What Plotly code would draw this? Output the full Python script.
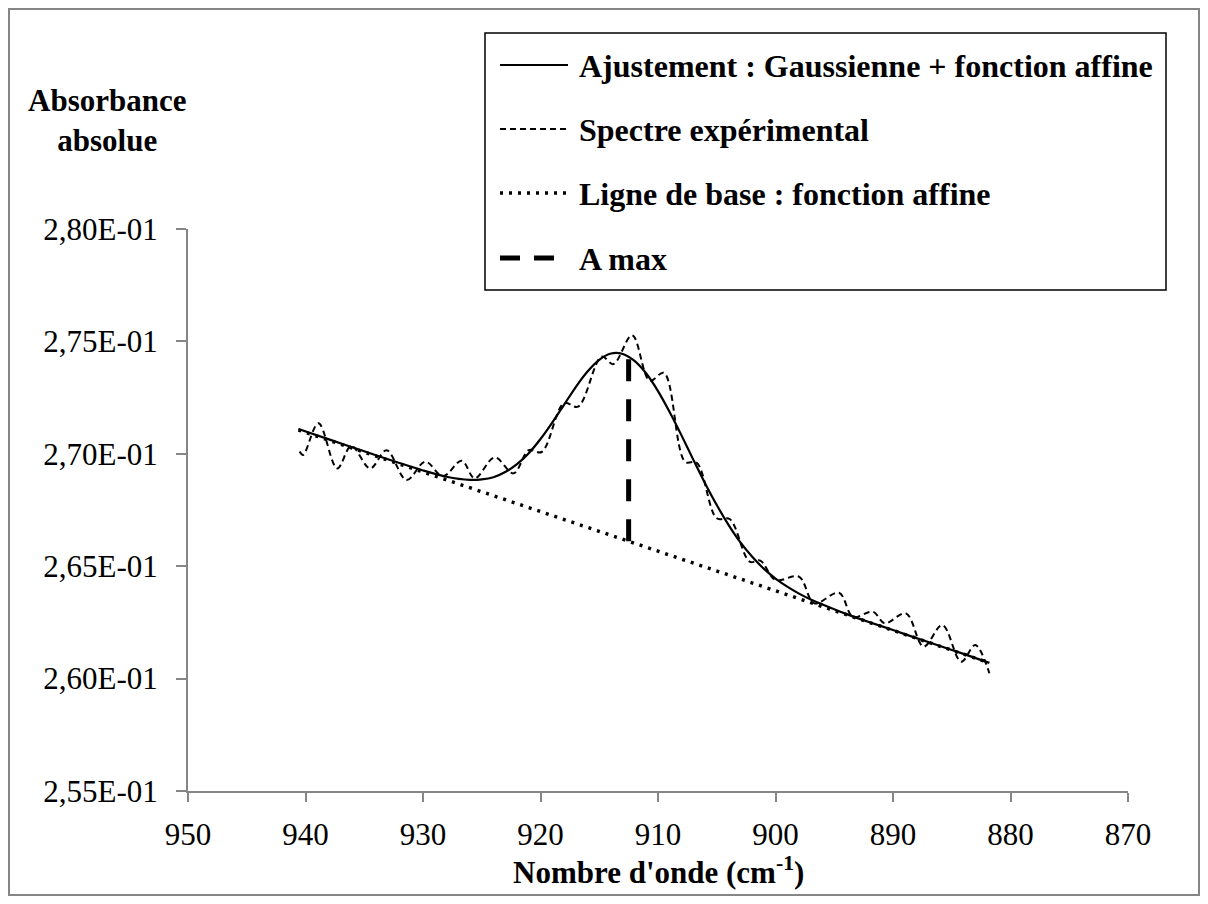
import plotly.graph_objects as go

# wavenumber (cm-1) and absorbance values
fit_x = [940.6, 938, 935, 932, 930, 928, 926, 925, 924, 923, 922, 921, 920, 919, 918,
         917, 916, 915, 914, 913, 912, 911, 910, 909, 908, 907, 906, 905, 904, 903,
         902, 901, 900, 899, 898, 897, 896, 894, 892, 890, 888, 886, 884, 881.8]
fit_y = [0.27110, 0.27064, 0.27011, 0.26959, 0.26926, 0.26898, 0.26884, 0.26886, 0.26896,
         0.26919, 0.26954, 0.27003, 0.27066, 0.27139, 0.27218, 0.27297, 0.27366, 0.27418,
         0.27446, 0.27444, 0.27413, 0.27357, 0.27279, 0.27185, 0.27082, 0.26974, 0.26869,
         0.26772, 0.26684, 0.26607, 0.26543, 0.26489, 0.26445, 0.26409, 0.26378, 0.26352,
         0.26330, 0.26288, 0.26251, 0.26216, 0.26180, 0.26145, 0.26110, 0.26070]

exp_x = [940.5, 940.2, 938.9, 937.3, 936.1, 934.5, 933.1, 931.4, 929.8, 928.3, 926.7,
         925.6, 923.9, 922.3, 921.0, 919.9, 918.0, 916.8, 914.8, 913.8, 912.2, 910.7,
         909.5, 907.7, 906.7, 905.0, 903.9, 902.2, 901.3, 900.0, 898.0, 896.7, 894.6,
         893.4, 891.7, 890.7, 888.9, 887.4, 885.8, 884.2, 883.0, 881.8]
exp_y = [0.27010, 0.26995, 0.27136, 0.26935, 0.27035, 0.26935, 0.27016, 0.26883, 0.26965,
         0.26900, 0.26969, 0.26891, 0.26984, 0.26913, 0.27016, 0.27008, 0.27225, 0.27210,
         0.27432, 0.27399, 0.27527, 0.27325, 0.27360, 0.26965, 0.26960, 0.26713, 0.26710,
         0.26520, 0.26525, 0.26439, 0.26453, 0.26335, 0.26382, 0.26275, 0.26297, 0.26246,
         0.26290, 0.26142, 0.26238, 0.26075, 0.26149, 0.26024]

base_x = [940.6, 881.8]
base_y = [0.27106, 0.26070]

amax_x = [912.5, 912.5]
amax_y = [0.26611, 0.27426]

x_ticks = [950, 940, 930, 920, 910, 900, 890, 880, 870]
y_ticks = [0.255, 0.260, 0.265, 0.270, 0.275, 0.280]
y_tick_text = ["2,55E-01", "2,60E-01", "2,65E-01", "2,70E-01", "2,75E-01", "2,80E-01"]

legend_names = ["Ajustement : Gaussienne + fonction affine", "Spectre expérimental",
                "Ligne de base : fonction affine", "A max"]

FONT = '"Liberation Serif", "Times New Roman", Times, serif'
GREY = "#868686"

# the page puts the figure 8px in from the top left corner
OFF = 8
W, H = 1200, 896
# plot area in page pixels
L, R, T, B = 188, 1128, 229, 791


def px(x):
    return (x - L) / (R - L)


def py(y):
    return (B - y) / (B - T)


fig = go.Figure()
fig.add_trace(go.Scatter(x=base_x, y=base_y, mode="lines",
                         line=dict(color="black", width=3.5, dash="3px,6px")))
fig.add_trace(go.Scatter(x=exp_x, y=exp_y, mode="lines",
                         line=dict(color="black", width=2, dash="6px,4px", shape="spline", smoothing=1)))
fig.add_trace(go.Scatter(x=fit_x, y=fit_y, mode="lines",
                         line=dict(color="black", width=2.2, shape="spline", smoothing=0.8)))
fig.add_trace(go.Scatter(x=amax_x, y=amax_y, mode="lines",
                         line=dict(color="black", width=5, dash="22px,18px")))

# legend box drawn by hand so the samples are as long as in the original
shapes = [
    dict(type="rect", xref="paper", yref="paper", x0=px(9), x1=px(1199), y0=py(895), y1=py(9),
         line=dict(color=GREY, width=2), layer="below"),
    dict(type="rect", xref="paper", yref="paper", x0=px(485), x1=px(1166), y0=py(290), y1=py(33),
         line=dict(color="black", width=1.5), fillcolor="white", layer="above"),
]
styles = [("solid", 2.2), ("6px,4px", 2), ("3px,6px", 3.5), ("20px,14px", 5)]
rows = [65, 129, 193, 258]
annotations = []
for name, (dash, w), yr in zip(legend_names, styles, rows):
    shapes.append(dict(type="line", xref="paper", yref="paper", x0=px(500), x1=px(568),
                       y0=py(yr), y1=py(yr), line=dict(color="black", width=w, dash=dash), layer="above"))
    annotations.append(dict(xref="paper", yref="paper", x=px(577), y=py(yr + 1), text="<b>" + name + "</b>",
                            showarrow=False, xanchor="left", yanchor="middle",
                            font=dict(family=FONT, size=32, color="black")))

annotations.append(dict(xref="paper", yref="paper", x=px(107), y=py(121), text="<b>Absorbance<br>absolue</b>",
                        showarrow=False, xanchor="center", yanchor="middle", align="center",
                        font=dict(family=FONT, size=31, color="black")))
annotations.append(dict(xref="paper", yref="paper", x=px(658), y=py(870), text="<b>Nombre d'onde (cm<sup>-1</sup>)</b>",
                        showarrow=False, xanchor="center", yanchor="middle",
                        font=dict(family=FONT, size=31, color="black")))

fig.update_layout(
    width=W, height=H,
    margin=dict(l=L - OFF, r=W - (R - OFF), t=T - OFF, b=H - (B - OFF)),
    paper_bgcolor="white", plot_bgcolor="white",
    showlegend=False,
    font=dict(family=FONT),
    shapes=shapes, annotations=annotations,
    xaxis=dict(range=[950, 870], tickvals=x_ticks, ticktext=[str(v) for v in x_ticks],
               showgrid=False, zeroline=False, showline=True, linecolor=GREY, linewidth=2,
               ticks="outside", ticklen=9, tickwidth=2, tickcolor=GREY, ticklabelstandoff=6,
               tickfont=dict(family=FONT, size=31, color="black")),
    yaxis=dict(range=[0.255, 0.280], tickvals=y_ticks, ticktext=y_tick_text,
               showgrid=False, zeroline=False, showline=True, linecolor=GREY, linewidth=2,
               ticks="outside", ticklen=10, tickwidth=2, tickcolor=GREY, ticklabelstandoff=12,
               tickfont=dict(family=FONT, size=31, color="black")),
)

fig.write_html("out.html")
